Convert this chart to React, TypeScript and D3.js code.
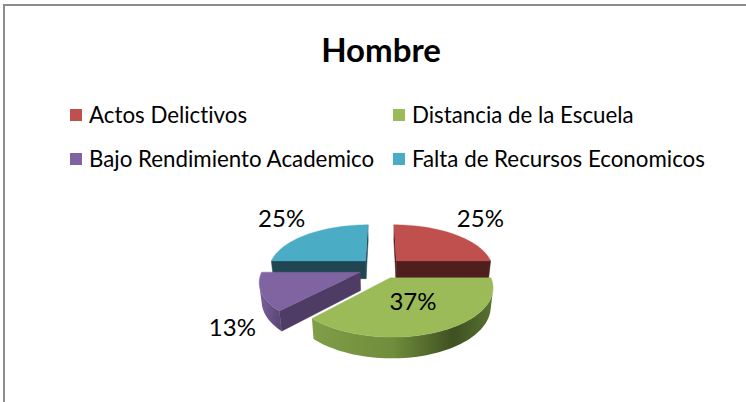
import React from "react";
import * as d3 from "d3";

const title = "Hombre";
const categories = [
  "Actos Delictivos",
  "Distancia de la Escuela",
  "Bajo Rendimiento Academico",
  "Falta de Recursos Economicos",
];
const values = [25, 37, 13, 25];
const topColors = ["#C0504D", "#9BBB59", "#8064A2", "#4BACC6"];
const sideColors = ["#4F1F1E", "#4F6228", "#4E3C64", "#1F4651"];
const outerStops = [
  ["#8A3A38", "#5A2322"],
  ["#809E48", "#6F8D3B", "#3F5022", "#587330"],
  ["#7A5F9B", "#5C4878"],
  ["#3A8A9F", "#24535F"],
];

const W = 746;
const H = 402;

// 3D projection parameters
const S = 97; // px per unit radius at center depth
const D = 5; // camera distance (radius units)
const PHI = (27.5 * Math.PI) / 180;
const SN = Math.sin(PHI);
const CS = Math.cos(PHI);
const TH = 0.215; // thickness
const EXPLODE = 0.23;
const CX = 381;
const CY = 268;

function project(X: number, Y: number, Z: number): [number, number] {
  const u = Y * CS + Z * SN;
  const d = Z * CS - Y * SN;
  const k = (S * D) / (D + d);
  return [CX + k * X, CY - k * u];
}
const CAM = [0, D * SN, -D * CS];

function poly(pts: [number, number][]) {
  return "M" + pts.map((p) => p[0].toFixed(2) + "," + p[1].toFixed(2)).join("L") + "Z";
}

export default function App() {
  const pie = d3.pie<number>().sort(null).value((d) => d)(values);
  const total = d3.sum(values);

  const slices = pie.map((a, i) => {
    const mid = (a.startAngle + a.endAngle) / 2;
    const ex = EXPLODE * Math.sin(mid);
    const ez = EXPLODE * Math.cos(mid);
    return { i, a0: a.startAngle, a1: a.endAngle, mid, ex, ez, depth: Math.cos(mid) };
  });
  const order = [...slices].sort((p, q) => q.depth - p.depth);

  const shapes: React.ReactNode[] = [];
  order.forEach((s) => {
    const { i, a0, a1, ex, ez } = s;
    const n = Math.max(8, Math.ceil(((a1 - a0) / (2 * Math.PI)) * 160));
    const thetas = d3.range(n + 1).map((j) => a0 + ((a1 - a0) * j) / n);
    const top = (t: number, r = 1) => project(ex + r * Math.sin(t), 0, ez + r * Math.cos(t));
    const bot = (t: number, r = 1) => project(ex + r * Math.sin(t), -TH, ez + r * Math.cos(t));
    const vTop = project(ex, 0, ez);
    const vBot = project(ex, -TH, ez);

    // radial walls
    const radial = (t: number, nx: number, nz: number) => {
      const px = ex + 0.5 * Math.sin(t);
      const pz = ez + 0.5 * Math.cos(t);
      const dot = nx * (CAM[0] - px) + nz * (CAM[2] - pz);
      if (dot > 0) {
        shapes.push(
          <path key={`r${i}-${t}`} d={poly([vTop, top(t), bot(t), vBot])} fill={sideColors[i]} stroke={sideColors[i]} strokeWidth={0.5} />
        );
      }
    };
    radial(a0, -Math.cos(a0), Math.sin(a0));
    radial(a1, Math.cos(a1), -Math.sin(a1));

    // outer wall runs
    let run: number[] = [];
    const runs: number[][] = [];
    for (let j = 0; j < n; j++) {
      const tm = (thetas[j] + thetas[j + 1]) / 2;
      const px = ex + Math.sin(tm);
      const pz = ez + Math.cos(tm);
      const dot = Math.sin(tm) * (CAM[0] - px) + Math.cos(tm) * (CAM[2] - pz);
      if (dot > 0) {
        if (run.length === 0) run.push(thetas[j]);
        run.push(thetas[j + 1]);
      } else if (run.length) {
        runs.push(run);
        run = [];
      }
    }
    if (run.length) runs.push(run);
    runs.forEach((rn, ri) => {
      const pts = [...rn.map((t) => top(t)), ...rn.slice().reverse().map((t) => bot(t))];
      shapes.push(
        <path key={`o${i}-${ri}`} d={poly(pts)} fill={`url(#side${i})`} stroke="none" />
      );
    });

    // top face
    const facePts = [vTop, ...thetas.map((t) => top(t))];
    shapes.push(<path key={`t${i}`} d={poly(facePts)} fill={topColors[i]} stroke={topColors[i]} strokeWidth={0.4} />);
  });

  // gradients spanning the horizontal extent of each slice's outer wall
  const grads = slices.map((s) => {
    const xs = d3.range(41).map((j) => {
      const t = s.a0 + ((s.a1 - s.a0) * j) / 40;
      return project(s.ex + Math.sin(t), 0, s.ez + Math.cos(t))[0];
    });
    const [x0, x1] = d3.extent(xs) as [number, number];
    const stops = outerStops[s.i];
    return (
      <linearGradient key={s.i} id={`side${s.i}`} gradientUnits="userSpaceOnUse" x1={x0} y1={0} x2={x1} y2={0}>
        {stops.map((c, k) => (
          <stop key={k} offset={stops.length === 4 ? [0, 0.45, 0.78, 1][k] : k / (stops.length - 1)} stopColor={c} />
        ))}
      </linearGradient>
    );
  });

  // labels
  const fmt = (v: number) => Math.round((v / total) * 100) + "%";
  const labelFont = 24;
  const labels = slices.map((s) => {
    const txt = fmt(values[s.i]);
    const w = txt.length * labelFont * 0.62;
    const hgt = labelFont * 0.75;
    if (s.i === 1) {
      const r = 0.5;
      const p = project(s.ex + r * Math.sin(s.mid), 0, s.ez + r * Math.cos(s.mid));
      return { txt, x: p[0], y: p[1] + hgt / 2 - 1 };
    }
    const front = Math.cos(s.mid) < 0;
    const p = project(
      s.ex + Math.sin(s.mid),
      front ? -TH : 0,
      s.ez + Math.cos(s.mid)
    );
    const sx = Math.sign(p[0] - CX);
    const sy = front ? 1 : -1;
    const cx = p[0] + sx * (w / 2 + (front ? 9 : 4));
    const cy = p[1] + sy * (hgt / 2 + 7);
    return { txt, x: cx, y: cy + hgt / 2 };
  });

  const legendRows = [
    { y: 115, items: [0, 1] },
    { y: 159, items: [2, 3] },
  ];
  const legendX = [70, 393];

  return (
    <svg
      width={W}
      height={H}
      viewBox={`0 0 ${W} ${H}`}
      style={{ position: "absolute", left: 0, top: 0, background: "#fff", fontVariantLigatures: "none", fontFeatureSettings: "'liga' 0, 'clig' 0" }}
      fontFamily="Lato, 'Noto Sans', sans-serif"
    >
      <defs>{grads}</defs>
      <rect x={4} y={5} width={W + 10} height={H + 10} fill="#fff" stroke="#8C8C8C" strokeWidth={2} />
      <text x={381} y={62} textAnchor="middle" fontSize={33} fontWeight="bold" fill="#000">
        {title}
      </text>
      {legendRows.map((row) =>
        row.items.map((ci, k) => (
          <g key={ci}>
            <rect x={legendX[k]} y={row.y - 6} width={12} height={12} fill={topColors[ci]} />
            <text x={legendX[k] + 19} y={row.y + 7.5} fontSize={22.3} fill="#000">
              {categories[ci]}
            </text>
          </g>
        ))
      )}
      {shapes}
      {labels.map((l, k) => (
        <text key={k} x={l.x} y={l.y} textAnchor="middle" fontSize={labelFont} fill="#000">
          {l.txt}
        </text>
      ))}
    </svg>
  );
}
